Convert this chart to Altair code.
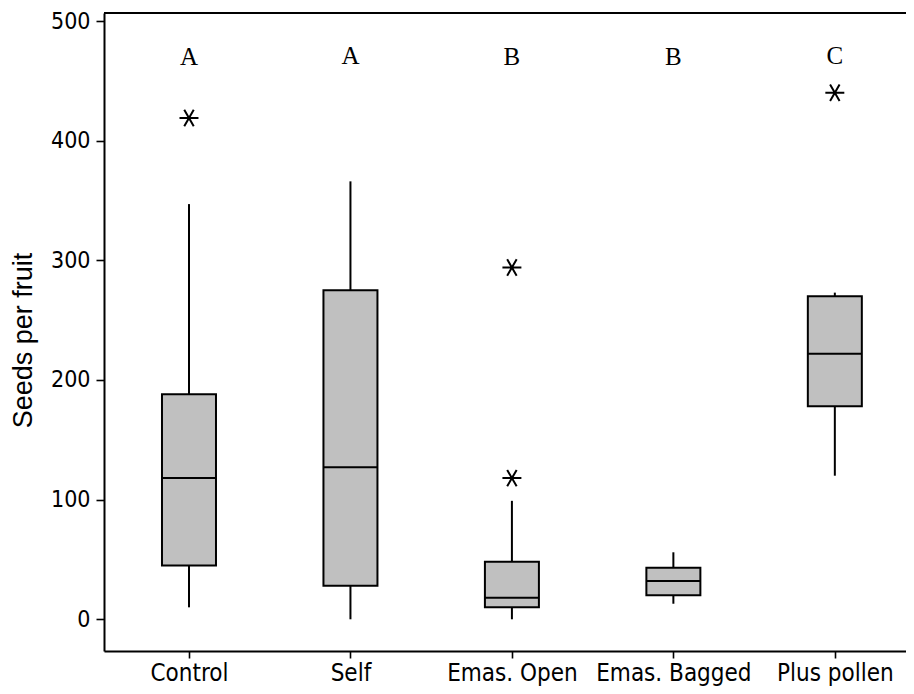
import altair as alt
import pandas as pd

# ---- data ----
categories = ["Control", "Self", "Emas. Open", "Emas. Bagged", "Plus pollen"]
whisker_low = [10, 0, 0, 13, 120]
q1 = [45, 28, 10, 20, 178]
median = [118, 127, 18, 32, 222]
q3 = [188, 275, 48, 43, 270]
whisker_high = [347, 366, 99, 56, 273]
letters = ["A", "A", "B", "B", "C"]
letter_y = [470, 471, 470, 470, 471]

outlier_cat = ["Control", "Emas. Open", "Emas. Open", "Plus pollen"]
outlier_val = [419, 118, 294, 440]

y_ticks = [0, 100, 200, 300, 400, 500]

idx = list(range(len(categories)))
box_df = pd.DataFrame({
    "cat": categories, "idx": idx, "lo": whisker_low, "q1": q1,
    "med": median, "q3": q3, "hi": whisker_high,
    "letter": letters, "ly": letter_y,
})
out_df = pd.DataFrame({
    "cat": outlier_cat,
    "idx": [categories.index(c) for c in outlier_cat],
    "val": outlier_val,
})

W, H = 802, 638
label_expr = "[" + ",".join("'%s'" % c for c in categories) + "][datum.value]"

x_enc = alt.X(
    "idx:Q",
    scale=alt.Scale(domain=[-0.4954, 4.4098], nice=False, zero=False),
    axis=alt.Axis(values=idx, labelExpr=label_expr, title=None, grid=False,
                  tickSize=7, labelPadding=3, labelFontSize=24),
)
y_scale = alt.Scale(domain=[-26.5, 506.7], nice=False, zero=False)
y_enc = alt.Y(
    "q1:Q", scale=y_scale,
    axis=alt.Axis(values=y_ticks, title="Seeds per fruit", grid=False,
                  tickSize=8, labelPadding=6, labelFontSize=23,
                  titleFont="Liberation Sans", titleFontSize=27,
                  titleFontWeight="normal", titleAngle=-90,
                  titleX=-81, titleY=327, titleAlign="center",
                  titleBaseline="middle"),
)

base = alt.Chart(box_df)

whisk_lo = base.mark_rule(color="black", strokeWidth=2).encode(
    x=x_enc, y=alt.Y("lo:Q", scale=y_scale), y2="q1:Q")
whisk_hi = base.mark_rule(color="black", strokeWidth=2).encode(
    x="idx:Q", y=alt.Y("q3:Q", scale=y_scale), y2="hi:Q")
boxes = base.mark_bar(size=54, fill="#c0c0c0", stroke="black",
                      strokeWidth=2, opacity=1).encode(
    x="idx:Q", y=y_enc, y2="q3:Q")
meds = base.mark_tick(color="black", size=54, thickness=2, opacity=1,
                      orient="horizontal").encode(
    x="idx:Q", y=alt.Y("med:Q", scale=y_scale))
letters_layer = base.mark_text(font="Liberation Serif", fontSize=25,
                               color="black", baseline="middle").encode(
    x="idx:Q", y=alt.Y("ly:Q", scale=y_scale), text="letter:N")

star = "M -1 0 L 1 0 M -0.5 -0.866 L 0.5 0.866 M -0.5 0.866 L 0.5 -0.866"
outliers = alt.Chart(out_df).mark_point(
    shape=star, size=360, filled=False, stroke="black", strokeWidth=2,
    opacity=1).encode(x="idx:Q", y=alt.Y("val:Q", scale=y_scale))

top_border = alt.Chart(pd.DataFrame({"k": [0]})).mark_rule(
    color="black", strokeWidth=2).encode(
    x=alt.value(0), x2=alt.value(W), y=alt.value(0))

chart = alt.layer(
    whisk_lo, whisk_hi, boxes, meds, outliers, letters_layer, top_border
).properties(
    width=W, height=H,
    autosize=alt.AutoSizeParams(type="none"),
    padding={"left": 96, "top": 5, "right": 0, "bottom": 40},
).configure_view(stroke=None).configure_axis(
    domainColor="black", domainWidth=2, tickColor="black", tickWidth=1.6,
    labelColor="black", labelFont="DejaVu Sans Condensed", titleColor="black",
)

chart.save("out.html", embed_options={"renderer": "svg", "actions": False})
